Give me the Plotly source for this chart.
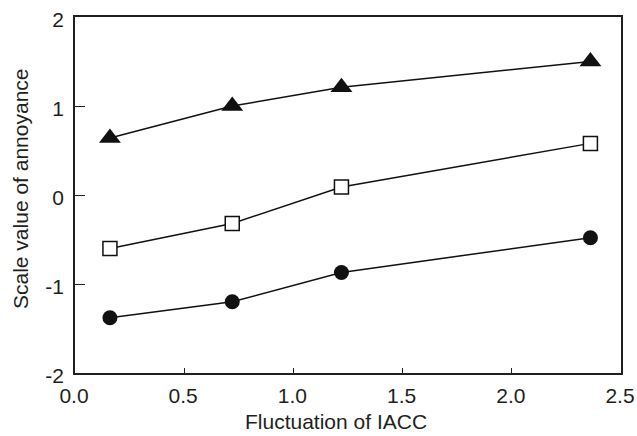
import plotly.graph_objects as go

x_vals = [0.16, 0.72, 1.22, 2.36]
tri_vals = [0.64, 1.00, 1.21, 1.50]
sq_vals = [-0.60, -0.32, 0.09, 0.58]
circ_vals = [-1.38, -1.20, -0.87, -0.48]

y_ticks = [-2, -1, 0, 1, 2]
y_ticklabels = ["-2", "-1", "0", "1", "2"]
x_ticks = [0.0, 0.5, 1.0, 1.5, 2.0, 2.5]
x_ticklabels = ["0.0", "0.5", "1.0", "1.5", "2.0", "2.5"]
x_title = "Fluctuation of IACC"
y_title = "Scale value of annoyance"

fig = go.Figure()
line = dict(color="#111111", width=1.5)
fig.add_trace(go.Scatter(x=x_vals, y=tri_vals, mode="lines+markers", line=line,
                         marker=dict(symbol="triangle-up", size=19, color="#111111",
                                     line=dict(width=0))))
fig.add_trace(go.Scatter(x=x_vals, y=sq_vals, mode="lines+markers", line=line,
                         marker=dict(symbol="square", size=14, color="white",
                                     line=dict(color="#111111", width=1.5))))
fig.add_trace(go.Scatter(x=x_vals, y=circ_vals, mode="lines+markers", line=line,
                         marker=dict(symbol="circle", size=15, color="#111111",
                                     line=dict(width=0))))

axis_color = "#231f20"
fnt = dict(family="Liberation Sans, Arial, sans-serif", size=21, color="#231f20")
fig.update_layout(
    width=637, height=436,
    margin=dict(l=75, r=16, t=17, b=63),
    plot_bgcolor="white", paper_bgcolor="white",
    showlegend=False,
    font=fnt,
    xaxis=dict(range=[0, 2.5], tickvals=x_ticks, ticktext=x_ticklabels, tickfont=fnt,
               ticks="inside", ticklen=5, tickcolor=axis_color, tickwidth=1.2,
               showline=True, linecolor=axis_color, linewidth=1.5, mirror=True,
               showgrid=False, zeroline=False, ticklabelstandoff=3, automargin=False,
               ticklabelshift=-1),
    yaxis=dict(range=[-2, 2], tickvals=y_ticks, ticktext=y_ticklabels, tickfont=fnt,
               ticks="inside", ticklen=10, tickcolor=axis_color, tickwidth=1.2,
               showline=True, linecolor=axis_color, linewidth=1.5, mirror=True,
               showgrid=False, zeroline=False, ticklabelstandoff=5, automargin=False,
               ticklabelshift=3),
    annotations=[
        dict(text=x_title, xref="paper", yref="paper", x=0.5, y=0,
             xanchor="center", yanchor="middle", xshift=-12, yshift=-48,
             showarrow=False, font=fnt),
        dict(text=y_title, xref="paper", yref="paper", x=0, y=0.5,
             xanchor="center", yanchor="middle", xshift=-55, yshift=6,
             textangle=-90, showarrow=False, font=fnt),
    ],
)
fig.write_html("out.html", config={"displayModeBar": False},
               post_script="document.body.style.margin='0';")
